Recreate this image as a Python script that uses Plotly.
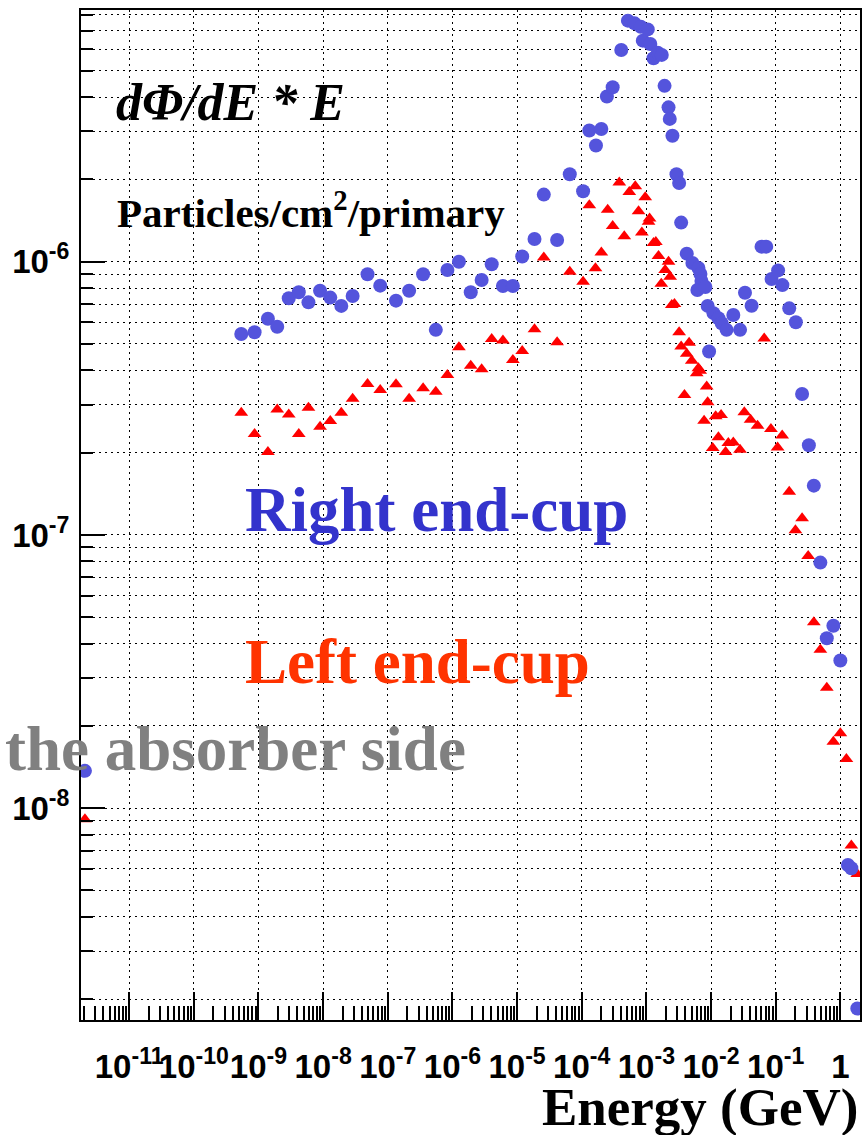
import plotly.graph_objects as go

# Energy (GeV) and dPhi/dE * E (particles/cm^2/primary) for the two end-caps
right_energy = [2.07e-12, 5.42e-10, 8.71e-10, 1.40e-9, 1.95e-9, 2.94e-9, 4.20e-9, 5.93e-9, 8.97e-9,
                1.29e-8, 1.91e-8, 2.86e-8, 4.86e-8, 7.64e-8, 1.34e-7, 2.14e-7, 3.52e-7, 5.53e-7,
                8.36e-7, 1.26e-6, 1.92e-6, 2.83e-6, 4.05e-6, 6.04e-6, 8.61e-6, 1.20e-5, 1.86e-5,
                2.59e-5, 4.16e-5, 6.53e-5, 1.05e-4, 1.31e-4, 1.66e-4, 2.01e-4, 2.45e-4, 3.01e-4,
                4.09e-4, 5.18e-4, 6.56e-4, 8.2e-4, 8.8e-4, 1.05e-3, 1.15e-3, 1.29e-3, 1.50e-3,
                1.73e-3, 1.91e-3, 2.20e-3, 2.30e-3, 2.53e-3, 2.92e-3, 3.21e-3, 3.45e-3, 4.21e-3,
                5.15e-3, 6.38e-3, 6.85e-3, 7.10e-3, 6.15e-3, 8.18e-3, 8.87e-3, 1.09e-2, 1.30e-2,
                1.46e-2, 1.74e-2, 2.21e-2, 2.81e-2, 9.33e-3, 3.35e-2, 4.24e-2, 6.04e-2, 7.14e-2,
                8.63e-2, 0.109, 0.127, 0.162, 0.205, 0.256, 0.326, 0.389, 0.491, 0.617, 0.780,
                1.0, 1.31, 1.48, 1.83]
right_flux = [1.37e-8, 5.44e-7, 5.52e-7, 6.18e-7, 5.78e-7, 7.35e-7, 7.73e-7, 7.10e-7, 7.83e-7,
              7.39e-7, 6.89e-7, 7.49e-7, 8.99e-7, 8.17e-7, 7.20e-7, 7.83e-7, 8.99e-7, 5.63e-7,
              9.32e-7, 1.00e-6, 7.73e-7, 8.57e-7, 9.78e-7, 8.15e-7, 8.15e-7, 1.045e-6, 1.21e-6,
              1.76e-6, 1.20e-6, 2.09e-6, 1.81e-6, 3.02e-6, 2.66e-6, 3.06e-6, 4.02e-6, 4.35e-6,
              5.95e-6, 7.62e-6, 7.45e-6, 7.24e-6, 6.44e-6, 7.08e-6, 6.26e-6, 5.55e-6, 5.82e-6,
              5.71e-6, 4.40e-6, 3.67e-6, 3.33e-6, 2.89e-6, 2.09e-6, 1.94e-6, 1.39e-6, 1.07e-6,
              9.89e-7, 9.48e-7, 9.02e-7, 8.50e-7, 7.88e-7, 8.08e-7, 6.89e-7, 6.48e-7, 6.21e-7,
              5.95e-7, 5.63e-7, 6.38e-7, 5.63e-7, 4.69e-7, 7.70e-7, 6.90e-7, 1.135e-6, 1.135e-6,
              8.64e-7, 9.29e-7, 8.21e-7, 6.75e-7, 6.00e-7, 3.28e-7, 2.13e-7, 1.515e-7, 7.92e-8,
              4.19e-8, 4.65e-8, 3.47e-8, 6.20e-9, 6.03e-9, 1.85e-9]

left_energy = [2.07e-12, 5.42e-10, 8.71e-10, 1.40e-9, 1.95e-9, 2.94e-9, 4.20e-9, 5.93e-9, 8.97e-9,
               1.29e-8, 1.91e-8, 2.86e-8, 4.86e-8, 7.64e-8, 1.34e-7, 2.14e-7, 3.52e-7, 5.53e-7,
               8.36e-7, 1.26e-6, 1.92e-6, 2.83e-6, 4.05e-6, 6.04e-6, 8.61e-6, 1.20e-5, 1.86e-5,
               2.59e-5, 4.16e-5, 6.53e-5, 1.05e-4, 1.31e-4, 1.63e-4, 2.01e-4, 2.52e-4, 3.01e-4,
               3.81e-4, 4.55e-4, 5.44e-4, 6.73e-4, 7.57e-4, 8.51e-4, 9.60e-4, 1.08e-3, 1.12e-3,
               1.29e-3, 1.40e-3, 1.54e-3, 1.70e-3, 1.95e-3, 2.20e-3, 2.33e-3, 2.47e-3, 2.72e-3,
               3.21e-3, 3.45e-3, 3.88e-3, 4.21e-3, 4.58e-3, 5.03e-3, 6.00e-3, 6.38e-3, 6.78e-3,
               7.81e-3, 8.57e-3, 8.87e-3, 1.06e-2, 1.18e-2, 1.30e-2, 1.43e-2, 1.68e-2, 1.85e-2,
               2.21e-2, 2.81e-2, 3.27e-2, 4.09e-2, 5.24e-2, 6.65e-2, 8.44e-2, 0.107, 0.126,
               0.162, 0.202, 0.256, 0.318, 0.389, 0.491, 0.617, 0.780, 1.0, 1.24, 1.48, 1.83]
left_flux = [9.12e-9, 2.80e-7, 2.34e-7, 2.01e-7, 2.88e-7, 2.76e-7, 2.34e-7, 2.92e-7, 2.49e-7,
             2.61e-7, 2.80e-7, 3.15e-7, 3.57e-7, 3.39e-7, 3.56e-7, 3.15e-7, 3.44e-7, 3.34e-7,
             3.85e-7, 4.86e-7, 4.16e-7, 4.04e-7, 5.21e-7, 5.15e-7, 4.37e-7, 4.71e-7, 5.66e-7,
             1.036e-6, 5.07e-7, 9.19e-7, 8.45e-7, 1.61e-6, 9.46e-7, 1.08e-6, 1.55e-6, 1.35e-6,
             1.95e-6, 1.24e-6, 1.80e-6, 1.89e-6, 1.53e-6, 1.28e-6, 1.72e-6, 1.40e-6, 1.44e-6,
             1.17e-6, 1.18e-6, 1.05e-6, 8.31e-7, 9.32e-7, 1.00e-6, 8.81e-7, 6.94e-7, 7.00e-7,
             5.52e-7, 4.89e-7, 3.25e-7, 4.60e-7, 5.05e-7, 4.34e-7, 3.91e-7, 4.07e-7, 3.99e-7,
             2.62e-7, 3.49e-7, 3.06e-7, 2.08e-7, 2.72e-7, 2.28e-7, 2.75e-7, 2.01e-7, 2.17e-7,
             2.18e-7, 2.05e-7, 2.81e-7, 2.64e-7, 2.51e-7, 5.24e-7, 2.44e-7, 2.09e-7, 2.31e-7,
             1.44e-7, 1.04e-7, 1.15e-7, 8.38e-8, 4.79e-8, 3.80e-8, 2.76e-8, 1.75e-8, 1.88e-8,
             1.515e-8, 7.30e-9, 5.75e-9]

# Axis tick labels
x_tickvals = [1e-11, 1e-10, 1e-9, 1e-8, 1e-7, 1e-6, 1e-5, 1e-4, 1e-3, 1e-2, 1e-1, 1]
x_ticktext = ["10<sup>-11</sup>", "10<sup>-10</sup>", "10<sup>-9</sup>", "10<sup>-8</sup>",
              "10<sup>-7</sup>", "10<sup>-6</sup>", "10<sup>-5</sup>", "10<sup>-4</sup>",
              "10<sup>-3</sup>", "10<sup>-2</sup>", "10<sup>-1</sup>", "1"]
y_tickvals = [1e-8, 1e-7, 1e-6]
y_ticktext = ["10<sup>-8</sup>", "10<sup>-7</sup>", "10<sup>-6</sup>"]

# Minor ticks at 2..9 of every decade
x_minor = [m * 10.0 ** e for e in range(-12, 1) for m in range(2, 10)]
y_minor = [m * 10.0 ** e for e in range(-9, -5) for m in range(2, 10)]

W, H = 864, 1135
L, R, T, B = 81, 862, 10, 1020


def px(x):
    return (x - L) / (R - L)


def py(y):
    return (B - y) / (B - T)


fig = go.Figure()
fig.add_trace(go.Scatter(
    x=left_energy, y=left_flux, mode="markers", name="Left end-cup",
    marker=dict(symbol="triangle-up", size=12, color="#ff0000", line=dict(width=0)),
))
fig.add_trace(go.Scatter(
    x=right_energy, y=right_flux, mode="markers", name="Right end-cup",
    marker=dict(symbol="circle", size=14, color="#5454dc", line=dict(width=0)),
))

grid_dash = "2px,4px"

fig.update_xaxes(
    type="log", range=[-11.745, 0.304],
    tickmode="array", tickvals=x_tickvals, ticktext=x_ticktext, tickangle=0,
    ticks="inside", ticklen=28, tickwidth=2, tickcolor="black",
    tickfont=dict(family="Liberation Sans", size=33, color="black", weight="bold"),
    ticklabelstandoff=16,
    showline=True, linecolor="black", linewidth=2, mirror=True,
    showgrid=True, gridcolor="black", gridwidth=1.4, griddash=grid_dash,
    minor=dict(tickmode="array", tickvals=x_minor, ticks="inside", ticklen=14,
               tickwidth=1.5, tickcolor="black", showgrid=False),
    zeroline=False,
)
fig.update_yaxes(
    type="log", range=[-8.775, -5.079],
    tickmode="array", tickvals=y_tickvals, ticktext=y_ticktext,
    ticks="inside", ticklen=24, tickwidth=2, tickcolor="black",
    tickfont=dict(family="Liberation Sans", size=33, color="black", weight="bold"),
    ticklabelstandoff=3,
    showline=True, linecolor="black", linewidth=2, mirror=True,
    showgrid=True, gridcolor="black", gridwidth=1.4, griddash=grid_dash,
    minor=dict(tickmode="array", tickvals=y_minor, ticks="inside", ticklen=12,
               tickwidth=2, tickcolor="black", showgrid=True,
               gridcolor="black", gridwidth=1.4, griddash=grid_dash),
    zeroline=False,
)

serif = "Liberation Serif"
texts = [
    # (text, left/right x, middle y, size, colour, xanchor)
    ("<b><i>dΦ/dE * E</i></b>", 114, 103, 52, "black", "left"),
    ("<b>Particles/cm<sup>2</sup>/primary</b>", 115, 210, 41, "black", "left"),
    ("<b>Right end-cup</b>", 243, 510, 63, "#3333cc", "left"),
    ("<b>Left end-cup</b>", 243, 662, 63, "#ff3300", "left"),
    ("<b>the absorber side</b>", 3, 749, 63, "#808080", "left"),
    ("<b>Energy (GeV)</b>", 862, 1107, 53, "black", "right"),
]
for txt, x, y, size, color, anchor in texts:
    fig.add_annotation(
        text=txt, xref="paper", yref="paper", x=px(x), y=py(y),
        xanchor=anchor, yanchor="middle", showarrow=False,
        font=dict(family=serif, size=size, color=color),
    )

fig.update_layout(
    width=W, height=H,
    margin=dict(l=L, r=W - R, t=T, b=H - B),
    paper_bgcolor="white", plot_bgcolor="white",
    showlegend=False,
)

fig.write_html("out.html")
